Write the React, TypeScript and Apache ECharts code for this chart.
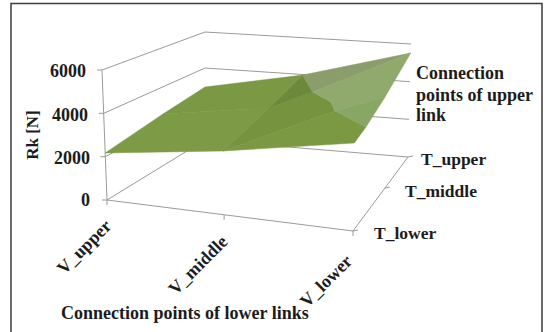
import React, { useEffect, useRef } from "react";
import * as echarts from "echarts";

// Axis categories and value ticks
const lowerLinkPoints = ["V_upper", "V_middle", "V_lower"];
const upperLinkPoints = ["T_lower", "T_middle", "T_upper"];
const rkTicks = [0, 2000, 4000, 6000];

// Surface nodes: position along each category axis (0..2) and Rk in newtons.
// The first nine are the grid crossings, the rest are where the surface folds.
const nodeV = [0, 0, 0, 1, 1, 1, 2, 2, 2, 1.233, 1.515, 1.605, 2];
const nodeT = [0, 1, 2, 0, 1, 2, 0, 0.95, 2, 1.524, 1.048, 0.862, 0.36];
const nodeRk = [2170, 2615, 2944, 2870, 3400, 3967, 3854, 4537, 5522, 3727, 3906, 3783, 4023];

// Surface facets by node index, back to front
const facetNodes = [
  [0, 3, 4, 1],
  [1, 4, 5, 2],
  [3, 4, 9, 10, 11],
  [4, 5, 9],
  [3, 11, 12, 6],
  [5, 8, 9],
  [9, 8, 7, 11, 10],
  [11, 7, 12],
];
const facetColors = ["#7d9b46", "#7b9945", "#76933f", "#6d8a3c", "#7b9943", "#8a9d6b", "#8faa6c", "#88a664"];

// Projected box: floor and ceiling corners, in the order
// front-left, front-right, back-right, back-left
const floorX = [107, 353, 408, 205];
const floorY = [200, 231, 157, 140];
const ceilX = [102, 355, 411, 205];
const ceilY = [70, 94, 44, 32];
const rkMax = 6000;

const warp = (p: number, mid: number) => (p < 1 ? mid * p : mid + (1 - mid) * (p - 1));
const blend = (c: number[], u: number, w: number) =>
  (1 - w) * (c[0] + (c[1] - c[0]) * u) + w * (c[3] + (c[2] - c[3]) * u);

function project(v: number, t: number, rk: number): number[] {
  const u = warp(v, 0.476);
  const w = warp(t, 0.58);
  const k = rk / rkMax;
  const fx = blend(floorX, u, w);
  const fy = blend(floorY, u, w);
  return [fx + (blend(ceilX, u, w) - fx) * k, fy + (blend(ceilY, u, w) - fy) * k];
}

// Box edges, wall gridlines and tick marks as point lists
function buildWireframe(): number[][][] {
  const out: number[][][] = [];
  rkTicks.forEach((rk) => {
    out.push([project(0, 0, rk), project(0, 2, rk), project(2, 2, rk)]);
    const p = project(0, 0, rk);
    out.push([[p[0] - 5, p[1]], p]);
  });
  out.push([project(0, 0, 0), project(0, 0, rkMax)]);
  out.push([project(0, 0, 0), project(2, 0, 0), project(2, 2, 0)]);
  lowerLinkPoints.forEach((_, i) => {
    const p = project(i, 0, 0);
    out.push([p, [p[0], p[1] + 5]]);
  });
  upperLinkPoints.forEach((_, i) => {
    const p = project(2, i, 0);
    out.push([p, [p[0] + 5, p[1] - 1]]);
  });
  return out;
}
const wireframe = buildWireframe();

const serif = "'Liberation Serif', serif";
const label = (text: string, x: number, y: number, extra: object = {}, rotation = 0, size = 18) => ({
  type: "text",
  x,
  y,
  rotation,
  silent: true,
  style: {
    text,
    font: `bold ${size}px ${serif}`,
    fill: "#1c1c1c",
    textAlign: "left",
    textVerticalAlign: "middle",
    ...extra,
  },
});

export default function App() {
  const ref = useRef<HTMLDivElement>(null);
  useEffect(() => {
    document.body.style.margin = "0";
    const chart = echarts.init(ref.current!, null, { renderer: "svg" });
    const rkLabelRight = [90, 90, 88, 86];
    const rkLabelY = [200, 158, 115, 71];
    const vLabelPos = [[84, 247], [198, 265], [326, 281]];
    const tLabelPos = [[374, 233], [405, 191], [421, 159]];
    chart.setOption({
      animation: false,
      backgroundColor: "#ffffff",
      grid: { left: 0, right: 0, top: 0, bottom: 0 },
      xAxis: { type: "value", min: 0, max: 546, show: false },
      yAxis: { type: "value", min: 0, max: 332, inverse: true, show: false },
      series: [
        {
          type: "custom",
          coordinateSystem: "cartesian2d",
          silent: true,
          clip: false,
          data: wireframe.map((_, i) => [i]),
          renderItem: (params: any, api: any) => ({
            type: "polyline",
            shape: { points: wireframe[params.dataIndex].map((p) => api.coord(p)) },
            style: { stroke: "#9a9a9a", lineWidth: 1, fill: "none" },
          }),
        },
        {
          type: "custom",
          coordinateSystem: "cartesian2d",
          silent: true,
          clip: false,
          data: facetNodes.map((_, i) => [i]),
          renderItem: (params: any, api: any) => {
            const i = params.dataIndex;
            return {
              type: "polygon",
              shape: {
                points: facetNodes[i].map((n) => api.coord(project(nodeV[n], nodeT[n], nodeRk[n]))),
              },
              style: { fill: facetColors[i], stroke: facetColors[i], lineWidth: 0.5 },
            };
          },
        },
      ],
      graphic: [
        {
          type: "rect",
          silent: true,
          shape: { x: 11, y: 3.5, width: 531, height: 340 },
          style: { fill: "none", stroke: "#3c3c3c", lineWidth: 1.5 },
        },
        ...rkTicks.map((rk, i) =>
          label(String(rk), rkLabelRight[i], rkLabelY[i], { textAlign: "right" })
        ),
        label("Rk [N]", 32, 135, { textAlign: "center" }, Math.PI / 2, 17),
        ...lowerLinkPoints.map((s, i) =>
          label(s, vLabelPos[i][0], vLabelPos[i][1], { textAlign: "center" }, Math.PI / 4)
        ),
        ...upperLinkPoints.map((s, i) => label(s, tLabelPos[i][0], tLabelPos[i][1], {}, 0, 17.5)),
        label("Connection", 416, 73),
        label("points of upper", 416, 95),
        label("link", 416, 115),
        label("Connection points of lower links", 61, 313),
      ],
    });
    return () => chart.dispose();
  }, []);
  return <div ref={ref} style={{ width: 546, height: 332 }} />;
}
